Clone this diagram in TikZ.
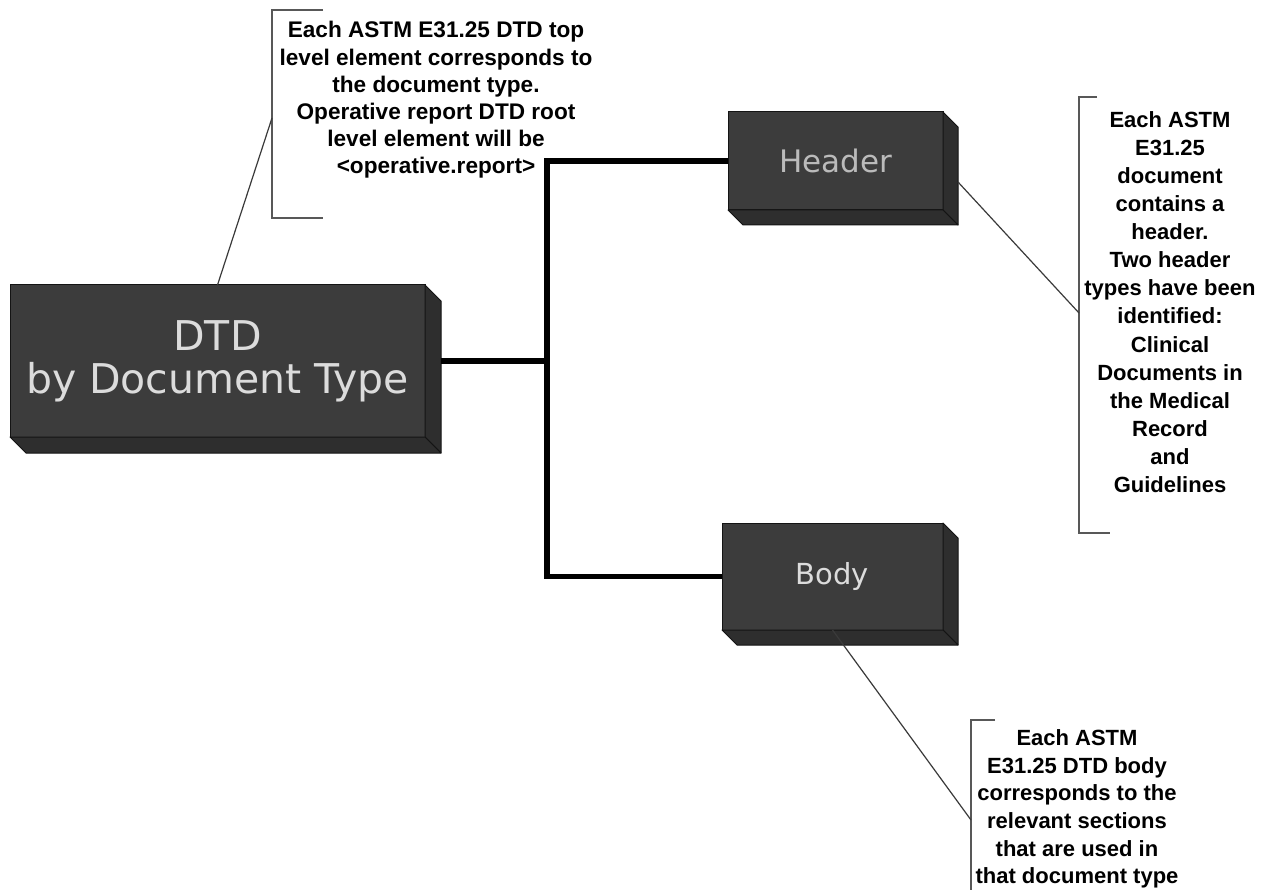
\documentclass[tikz,border=0pt]{standalone}
\usepackage{fontspec}
\setmainfont{Liberation Sans}
\newfontfamily\boxfont{DejaVu Sans}
\usetikzlibrary{calc}
\definecolor{boxfront}{HTML}{3C3C3C}
\definecolor{boxside}{HTML}{2E2E2E}
\definecolor{boxedge}{HTML}{141414}
\definecolor{boxtext}{HTML}{DCDCDC}
\definecolor{bracketgray}{HTML}{585858}
\definecolor{leadergray}{HTML}{3A3A3A}
\newcommand\solidsides[2]{%
  \filldraw[fill=boxside,draw=boxedge,line width=1pt,line join=round]
    (#1.north east) -- ++(#2,#2) -- ($(#1.south east)+(#2,#2)$) -- (#1.south east) -- cycle;
  \filldraw[fill=boxside,draw=boxedge,line width=1pt,line join=round]
    (#1.south west) -- (#1.south east) -- ($(#1.south east)+(#2,#2)$) -- ($(#1.south west)+(#2,#2)$) -- cycle;
}
\begin{document}
\begin{tikzpicture}[x=1pt,y=-1pt,
  solidbox/.style={fill=boxfront,draw=boxedge,line width=1pt,inner sep=0pt,outer sep=0pt,
    text=boxtext,align=center},
  conn/.style={line width=5.5pt,black},
  leader/.style={line width=1.2pt,leadergray},
  bracket/.style={line width=1.5pt,bracketgray},
  note/.style={align=center,inner sep=0pt,font=\bfseries\fontsize{22}{27.4}\selectfont}]
\useasboundingbox (0,0) rectangle (1268,890);
\clip (0,0) rectangle (1268,890);
\fill[white] (0,0) rectangle (1268,890);

% boxes
\node[solidbox,minimum width=415pt,minimum height=152pt,
  font=\boxfont\fontsize{41}{43}\selectfont] (dtd) at (217.5,361) {DTD\\by Document Type};
\solidsides{dtd}{16}
\node[solidbox,minimum width=215pt,minimum height=98pt,text=boxtext!85!black,
  font=\boxfont\fontsize{31}{33}\selectfont] (hdr) at (835.5,161) {Header};
\solidsides{hdr}{15}
\node[solidbox,minimum width=221pt,minimum height=107pt,
  font=\boxfont\fontsize{29}{33}\selectfont] (body) at (832.5,576.5) {Body};
\solidsides{body}{15}

% connectors
\coordinate (jn) at (547,361);
\draw[conn] ($(dtd.east)+(16,0)$) -- (jn);
\draw[conn] (hdr.west) -| (jn);
\draw[conn] (body.west) -| (jn);

% callout brackets
\draw[bracket] (323,10) -- (272,10) -- (272,218) -- (323,218);
\draw[bracket] (1097,97) -- (1079,97) -- (1079,533) -- (1110,533);
\draw[bracket] (995,720) -- (971,720) -- (971,900);

% leaders
\coordinate (c1hook) at (272,118);
\draw[leader] (dtd.north) -- (c1hook);
\coordinate (hdrtip) at (958,182);
\coordinate (c2hook) at (1079,313);
\draw[leader] (hdrtip) -- (c2hook);
\coordinate (c3hook) at (971,820);
\draw[leader] (body.south) -- (c3hook);

% callout texts
\node[note,font=\bfseries\fontsize{22.6}{27.2}\selectfont] (n1) at (436,100) {Each ASTM E31.25 DTD top\\level element corresponds to\\the document type.\\Operative report DTD root\\level element will be\\<operative.report>};
\node[note,font=\bfseries\fontsize{22}{28.1}\selectfont] (n2) at (1170,302) {Each ASTM\\E31.25\\document\\contains a\\header.\\Two header\\types have been\\identified:\\Clinical\\Documents in\\the Medical\\Record\\and\\Guidelines};
\node[note,font=\bfseries\fontsize{22}{27.6}\selectfont] (n3) at (1077,809) {Each ASTM\\E31.25 DTD body\\corresponds to the\\relevant sections\\that are used in\\that document type};
\end{tikzpicture}
\end{document}
